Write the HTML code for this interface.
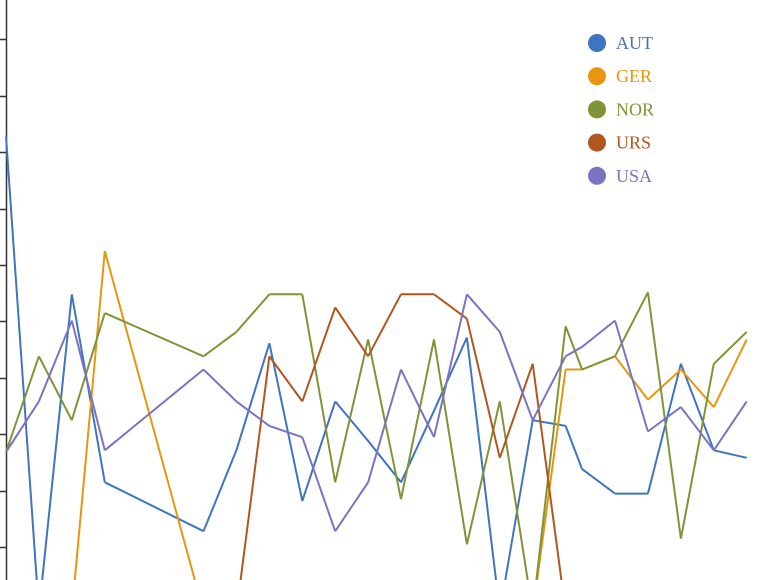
<!DOCTYPE html>
<html><head><meta charset="utf-8"><style>
html,body{margin:0;padding:0;background:#fff;width:775px;height:580px;overflow:hidden;}
svg{display:block;overflow:hidden;}
</style></head><body>
<svg id="chart" width="775" height="580" viewBox="0 0 775 580" xmlns="http://www.w3.org/2000/svg">
<g id="axis"></g>
<g id="lines"></g>
<g id="legend"></g>
</svg>
<script>
const years = [1924,1928,1932,1936,1948,1952,1956,1960,1964,1968,1972,1976,1980,1984,1988,1992,1994,1998,2002,2006,2010,2014];
const AUT = [25.3,0,16.9,6.9,4.3,8.6,14.3,5.9,11.2,9.1,6.9,10.7,14.6,0,10.2,9.9,7.6,6.3,6.3,13.2,8.6,8.2];
const GER = [0,0,0,19.2,0,0,0,0,0,0,0,0,0,0,0,12.9,12.9,13.6,11.3,12.9,10.9,14.5];
const NOR = [8.5,13.6,10.2,15.9,13.6,14.9,16.9,16.9,6.9,14.5,6.0,14.5,3.6,11.2,0,15.2,12.9,13.6,17.0,3.9,13.2,14.9];
const URS = [0,0,0,0,0,0,13.6,11.2,16.2,13.6,16.9,16.9,15.6,8.2,13.2,0,0,0,0,0,0,0];
const USA = [8.5,11.2,15.5,8.6,12.9,11.2,9.9,9.3,4.3,6.9,12.9,9.3,16.9,14.9,10.2,13.6,14.1,15.5,9.6,10.9,8.6,11.2];
const seriesNames = ["AUT","GER","NOR","URS","USA"];
const tickValues = [3.46,6.46,9.46,12.46,15.46,18.46,21.46,24.46,27.46,30.46];

const colors = {AUT:"#3f74c0",GER:"#e8960f",NOR:"#7f9436",URS:"#b0561f",USA:"#7a73c2"};
const seriesData = {AUT,GER,NOR,URS,USA};
const NS = "http://www.w3.org/2000/svg";
const BOTTOM = 580;
function x(yr){ return 6 + (yr-1924)*8.23; }
function y(v){ return 612 - v*18.8; }

function clippedPath(pts){
  let d = '';
  for(let i=0;i<pts.length-1;i++){
    let [x1,y1] = pts[i], [x2,y2] = pts[i+1];
    if(y1>BOTTOM && y2>BOTTOM) continue;
    if(y1>BOTTOM){ x1 = x1 + (x2-x1)*(BOTTOM-y1)/(y2-y1); y1 = BOTTOM; }
    if(y2>BOTTOM){ x2 = x1 + (x2-x1)*(BOTTOM-y1)/(y2-y1); y2 = BOTTOM; }
    d += 'M'+x1.toFixed(1)+','+y1.toFixed(1)+' L'+x2.toFixed(1)+','+y2.toFixed(1)+' ';
  }
  return d;
}

const axis = document.getElementById('axis');
const al = document.createElementNS(NS,'line');
al.setAttribute('x1',6.5); al.setAttribute('x2',6.5); al.setAttribute('y1',0); al.setAttribute('y2',580);
al.setAttribute('stroke','#333'); al.setAttribute('stroke-width',1.5);


axis.appendChild(al);
tickValues.forEach(t=>{
  const tk = document.createElementNS(NS,'line');
  const ty = Math.round(y(t))+0.5;
  tk.setAttribute('x1',0); tk.setAttribute('x2',6.5); tk.setAttribute('y1',ty); tk.setAttribute('y2',ty);
  tk.setAttribute('stroke','#333'); tk.setAttribute('stroke-width',1.5);
  
  
  axis.appendChild(tk);
});

const lines = document.getElementById('lines');
seriesNames.forEach(n=>{
  const pts = seriesData[n].map((v,i)=>[x(years[i]), y(v)]);
  const p = document.createElementNS(NS,'path');
  p.setAttribute('d',clippedPath(pts)); p.setAttribute('fill','none'); p.setAttribute('stroke',colors[n]);
  p.setAttribute('stroke-width',2); p.setAttribute('stroke-linejoin','round');
  
  
  lines.appendChild(p);
});

const legend = document.getElementById('legend');
seriesNames.forEach((n,i)=>{
  const g = document.createElementNS(NS,'g');
  
  
  const cy = 43 + i*33.2;
  const c = document.createElementNS(NS,'circle');
  c.setAttribute('cx',597); c.setAttribute('cy',cy); c.setAttribute('r',9); c.setAttribute('fill',colors[n]);
  
  
  const t = document.createElementNS(NS,'text');
  t.setAttribute('x',616); t.setAttribute('y',cy+6); t.setAttribute('fill',colors[n]);
  t.setAttribute('font-family','"Liberation Serif", serif'); t.setAttribute('font-size',18);
  
  
  t.textContent = n;
  g.appendChild(c); g.appendChild(t); legend.appendChild(g);
});
</script>
</body></html>
